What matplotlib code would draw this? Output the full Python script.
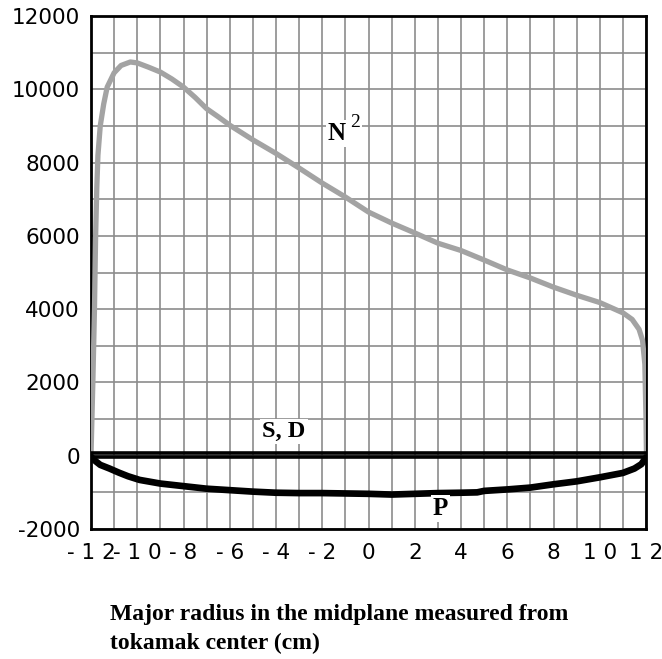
import matplotlib
matplotlib.use("Agg")
import matplotlib.pyplot as plt
import numpy as np

# ---- data ----
n2_x = [-12.0, -11.92, -11.85, -11.8, -11.75, -11.7, -11.6, -11.45, -11.3, -11.0,
        -10.7, -10.3, -10.0, -9.5, -9.0, -8.5, -8.0, -7.5, -7.0, -6.5, -6.0,
        -5.0, -4.0, -3.0, -2.0, -1.0, 0.0, 1.0, 2.0, 3.0, 4.0, 5.0, 6.0, 7.0,
        8.0, 9.0, 10.0, 11.0, 11.4, 11.7, 11.85, 11.95, 12.0, 12.02]
n2_y = [0, 2000, 4000, 6000, 7300, 8200, 9000, 9600, 10060, 10450,
        10650, 10745, 10720, 10600, 10470, 10280, 10060, 9780, 9470, 9250, 9020,
        8620, 8250, 7850, 7440, 7060, 6650, 6350, 6080, 5800, 5600, 5340, 5070, 4850,
        4600, 4380, 4180, 3900, 3720, 3450, 3150, 2500, 1000, 0]

sd_x = [-11.95, -8.0, -4.0, 0.0, 4.0, 8.0, 12.0]
s_y = [70, 70, 70, 70, 70, 70, 70]
d_y = [-40, -40, -40, -40, -40, -40, -40]

p_x = [-12.0, -11.8, -11.6, -11.2, -10.8, -10.4, -9.9, -9.0, -8.0, -7.0, -6.0,
       -5.0, -4.0, -3.0, -2.0, -1.0, 0.0, 1.0, 2.0, 3.0, 4.0, 4.7, 5.0, 6.0,
       7.0, 8.0, 9.0, 10.0, 11.0, 11.5, 11.8, 12.0]
p_y = [-30, -150, -250, -350, -460, -560, -660, -760, -830, -900, -940,
       -980, -1010, -1020, -1020, -1030, -1040, -1060, -1040, -1020, -1010, -1000, -960, -920,
       -870, -780, -700, -590, -470, -350, -230, -50]

x_ticks = [-12, -10, -8, -6, -4, -2, 0, 2, 4, 6, 8, 10, 12]
x_tick_labels = ["- 1 2", "- 1 0", "- 8", "- 6", "- 4", "- 2", "0", "2", "4", "6", "8", "1 0", "1 2"]
y_ticks = [-2000, 0, 2000, 4000, 6000, 8000, 10000, 12000]
y_tick_labels = ["-2000", "0", "2000", "4000", "6000", "8000", "10000", "12000"]
xlabel_lines = ["Major radius in the midplane measured from", "tokamak center (cm)"]

# ---- figure ----
W, H = 662, 659
fig = plt.figure(figsize=(W / 100, H / 100), dpi=100)
ax = fig.add_axes([91 / W, 1 - 529 / H, (646 - 91) / W, (529 - 16) / H])

ax.set_xlim(-12, 12)
ax.set_ylim(-2000, 12000)

ax.set_xticks(x_ticks)
ax.set_xticklabels(x_tick_labels)
ax.set_xticks(np.arange(-11, 12, 2), minor=True)
ax.set_yticks(y_ticks)
ax.set_yticklabels(y_tick_labels)
ax.set_yticks(np.arange(-1000, 12000, 2000), minor=True)

ax.grid(True, which="both", color="#8c8c8c", linewidth=1.2, zorder=0)
ax.set_axisbelow(True)
ax.tick_params(which="both", length=0)
ax.tick_params(axis="x", pad=10, labelsize=15.5)
ax.tick_params(axis="y", pad=8, labelsize=15.5)
for lab in ax.get_xticklabels() + ax.get_yticklabels():
    lab.set_fontfamily("DejaVu Sans")
    lab.set_color("black")

for sp in ax.spines.values():
    sp.set_linewidth(2.0)
    sp.set_color("black")

ax.plot(n2_x, n2_y, color="#a3a3a3", linewidth=3.8, solid_capstyle="round", zorder=3)
ax.plot(sd_x, s_y, color="black", linewidth=2.6, zorder=4)
ax.plot(sd_x, d_y, color="black", linewidth=2.6, zorder=4)
ax.plot(p_x, p_y, color="black", linewidth=4.8, solid_capstyle="round", zorder=4)

serif = ["Liberation Serif", "DejaVu Serif"]
box = dict(facecolor="white", edgecolor="none", pad=1.5)
ax.text(-1.77, 8615, "N", fontfamily=serif, fontweight="bold", fontsize=18,
        ha="left", va="baseline", bbox=box, zorder=5)
ax.text(-0.80, 8970, "2", fontfamily=serif, fontsize=14,
        ha="left", va="baseline", bbox=box, zorder=5)
ax.text(-4.59, 511, "S, D", fontfamily=serif, fontweight="bold", fontsize=17.5,
        ha="left", va="baseline", bbox=box, zorder=5)
ax.text(2.77, -1618, "P", fontfamily=serif, fontweight="bold", fontsize=18,
        ha="left", va="baseline", bbox=box, zorder=5)

fig.text(110 / W, 1 - 620 / H, xlabel_lines[0], fontfamily=serif, fontweight="bold",
         fontsize=17, ha="left", va="baseline")
fig.text(110 / W, 1 - 649 / H, xlabel_lines[1], fontfamily=serif, fontweight="bold",
         fontsize=17, ha="left", va="baseline")

fig.savefig("out.png", dpi=100, facecolor="white")
